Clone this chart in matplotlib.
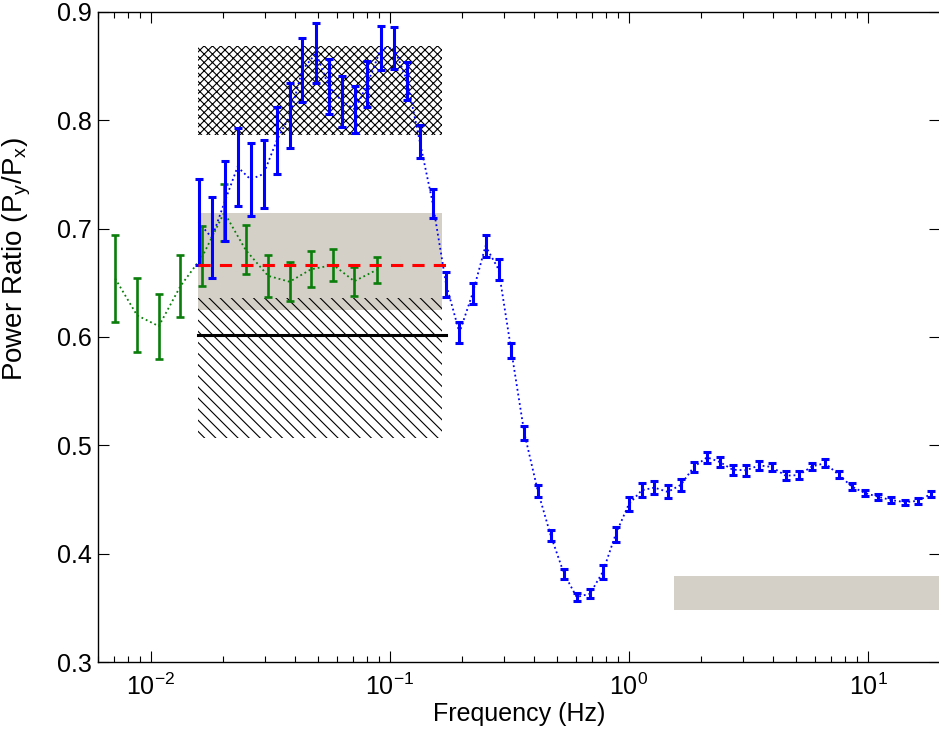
import numpy as np
import matplotlib
matplotlib.use('Agg')
import matplotlib.pyplot as plt
from matplotlib.patches import Rectangle
from matplotlib.ticker import FixedLocator, FormatStrFormatter, LogLocator

plt.rcParams['font.family'] = ['Liberation Sans', 'DejaVu Sans']
plt.rcParams['mathtext.fontset'] = 'custom'
plt.rcParams['mathtext.rm'] = 'Liberation Sans'
plt.rcParams['mathtext.it'] = 'Liberation Sans'
plt.rcParams['mathtext.default'] = 'regular'
plt.rcParams['hatch.linewidth'] = 0.8

# long-record estimate (green)
f_long = [0.0071, 0.00877, 0.01081, 0.01332, 0.01646, 0.0203, 0.02493,
          0.03094, 0.03811, 0.04684, 0.05808, 0.07108, 0.0882]
lo_long = [0.614, 0.586, 0.580, 0.618, 0.647, 0.689, 0.658,
           0.637, 0.633, 0.646, 0.652, 0.638, 0.650]
hi_long = [0.694, 0.654, 0.640, 0.676, 0.702, 0.741, 0.703,
           0.676, 0.669, 0.679, 0.681, 0.665, 0.674]

# short-record estimate (blue)
f_short = [0.01585, 0.01803, 0.02044, 0.02308, 0.02616, 0.02966, 0.03361,
           0.03811, 0.04308, 0.04915, 0.05551, 0.06316, 0.07156, 0.08056,
           0.09198, 0.1043, 0.1182, 0.1335, 0.1512, 0.1721, 0.1956, 0.2218,
           0.2514, 0.2850, 0.3222, 0.3652, 0.4164, 0.4708, 0.5354, 0.6047,
           0.6876, 0.7793, 0.8808, 0.9984, 1.1315, 1.279, 1.454, 1.649,
           1.868, 2.124, 2.407, 2.714, 3.094, 3.508, 3.964, 4.524, 5.129,
           5.83, 6.61, 7.54, 8.55, 9.69, 11.05, 12.49, 14.33, 16.16, 18.42]
lo_short = [0.666, 0.654, 0.689, 0.721, 0.712, 0.719, 0.750, 0.774, 0.817,
            0.834, 0.806, 0.794, 0.788, 0.812, 0.846, 0.847, 0.819, 0.765,
            0.710, 0.637, 0.594, 0.630, 0.674, 0.653, 0.581, 0.505, 0.452,
            0.412, 0.377, 0.356, 0.359, 0.377, 0.411, 0.439, 0.452, 0.455,
            0.451, 0.458, 0.475, 0.484, 0.480, 0.473, 0.472, 0.477, 0.476,
            0.468, 0.469, 0.477, 0.480, 0.470, 0.459, 0.453, 0.450, 0.447,
            0.445, 0.446, 0.4525]
hi_short = [0.746, 0.729, 0.762, 0.793, 0.779, 0.782, 0.812, 0.834, 0.876,
            0.890, 0.857, 0.841, 0.832, 0.855, 0.887, 0.886, 0.854, 0.796,
            0.737, 0.660, 0.614, 0.650, 0.694, 0.672, 0.594, 0.518, 0.463,
            0.422, 0.386, 0.364, 0.367, 0.390, 0.425, 0.452, 0.465, 0.467,
            0.463, 0.469, 0.485, 0.494, 0.489, 0.482, 0.482, 0.486, 0.484,
            0.476, 0.476, 0.484, 0.487, 0.476, 0.465, 0.459, 0.455, 0.452,
            0.450, 0.4515, 0.458]

# reference bands: (f_min, f_max, y_min, y_max)
band_cross = (0.0158, 0.166, 0.786, 0.869)
band_gray = (0.0158, 0.166, 0.625, 0.714)
band_diag = (0.0158, 0.166, 0.507, 0.636)
band_high = (1.55, 20.0, 0.348, 0.379)
line_span = (0.0158, 0.172)
red_level = 0.666
black_level = 0.602

GRAY = '#d4d0c8'
GREEN = '#0a7d0a'
BLUE = '#0000ff'


def add_band(ax, band, **kw):
    f0, f1, y0, y1 = band
    ax.add_patch(Rectangle((f0, y0), f1 - f0, y1 - y0, **kw))


def draw_series(ax, f, lo, hi, color, lw):
    f = np.array(f)
    lo = np.array(lo)
    hi = np.array(hi)
    mid = (lo + hi) / 2
    ax.plot(f, mid, ':', color=color, lw=1.3, zorder=3)
    ax.errorbar(f, mid, yerr=[mid - lo, hi - mid], fmt='none', ecolor=color,
                elinewidth=lw, capsize=2.8, capthick=lw, zorder=4)


fig = plt.figure(figsize=(9.39, 7.35), dpi=100)
ax = fig.add_axes([0.104, 0.0993, 0.897, 0.8844])
ax.set_xscale('log')

add_band(ax, band_gray, facecolor=GRAY, edgecolor='none', zorder=1)
add_band(ax, band_high, facecolor=GRAY, edgecolor='none', zorder=1)
add_band(ax, band_cross, facecolor='none', edgecolor='black', lw=0,
         hatch='xxxx', zorder=2)
add_band(ax, band_diag, facecolor='none', edgecolor='black', lw=0,
         hatch='\\\\\\', zorder=2)

ax.plot(line_span, [black_level] * 2, '-', color='black', lw=2.2, zorder=2.5)
ax.plot(line_span, [red_level] * 2, '--', color='red', lw=2.2,
        dashes=(4, 3), zorder=5)

draw_series(ax, f_long, lo_long, hi_long, GREEN, 1.9)
draw_series(ax, f_short, lo_short, hi_short, BLUE, 2.2)

ax.set_xlim(0.006, 20)
ax.set_ylim(0.3, 0.9)
ax.yaxis.set_major_locator(FixedLocator(np.arange(0.3, 0.91, 0.1)))
ax.yaxis.set_major_formatter(FormatStrFormatter('%.1f'))
ax.xaxis.set_major_locator(LogLocator(base=10, numticks=10))
ax.xaxis.set_minor_locator(LogLocator(base=10, subs=np.arange(2, 10), numticks=20))

ax.tick_params(which='both', direction='in', top=True, right=True,
               labelsize=18, width=0.8)
ax.tick_params(which='major', length=8)
ax.tick_params(which='minor', length=4)
ax.tick_params(axis='x', which='major', pad=8)
ax.tick_params(axis='y', which='major', pad=4)
for s in ax.spines.values():
    s.set_linewidth(1.0)

ax.set_xlabel('Frequency (Hz)', fontsize=18, labelpad=2)
ax.set_ylabel(r'Power Ratio (P$_y$/P$_x$)', fontsize=20)
ax.yaxis.set_label_coords(-0.077, 0.62)

fig.savefig('out.png', dpi=100)
